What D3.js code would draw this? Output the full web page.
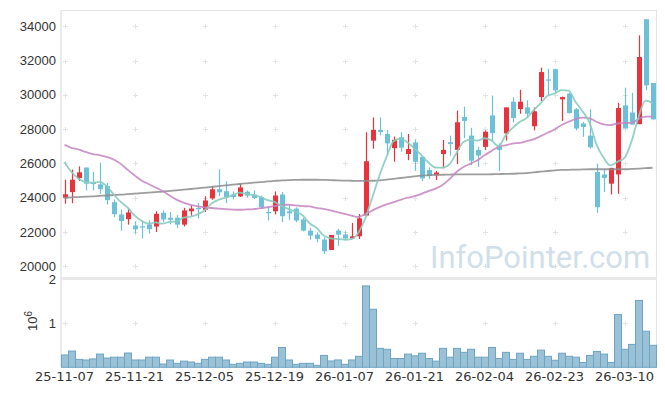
<!DOCTYPE html>
<html><head><meta charset="utf-8">
<script src="https://cdn.jsdelivr.net/npm/d3@7"></script>
<style>
html,body{margin:0;padding:0;background:#fff;}
svg{display:block;}
</style></head><body><svg id="c" width="665" height="396"></svg>
<script>
const dates = ["25-11-07","25-11-10","25-11-11","25-11-12","25-11-13","25-11-14","25-11-17","25-11-18","25-11-19","25-11-20",
"25-11-21","25-11-24","25-11-25","25-11-26","25-11-27","25-11-28","25-12-01","25-12-02","25-12-03","25-12-04",
"25-12-05","25-12-08","25-12-09","25-12-10","25-12-11","25-12-12","25-12-15","25-12-16","25-12-17","25-12-18",
"25-12-19","25-12-22","25-12-23","25-12-24","25-12-26","25-12-29","25-12-30","26-01-02","26-01-05","26-01-06",
"26-01-07","26-01-08","26-01-09","26-01-12","26-01-13","26-01-14","26-01-15","26-01-16","26-01-19","26-01-20",
"26-01-21","26-01-22","26-01-23","26-01-26","26-01-27","26-01-28","26-01-29","26-01-30","26-02-02","26-02-03",
"26-02-04","26-02-05","26-02-06","26-02-09","26-02-10","26-02-11","26-02-12","26-02-13","26-02-19","26-02-20",
"26-02-23","26-02-24","26-02-25","26-02-26","26-02-27","26-03-03","26-03-04","26-03-05","26-03-06","26-03-09",
"26-03-10","26-03-11","26-03-12","26-03-13","26-03-16"];
const opens = [24000,24330,25150,25760,24900,24780,24680,23740,23020,22750,
22380,22330,22440,22320,23120,22830,22830,22430,23210,23400,
23300,23960,24500,24380,24190,24080,24350,24180,24040,23170,
23210,24190,23210,23360,22730,22080,21850,21560,20950,22080,
21850,21630,21750,22960,27330,27960,27720,26890,27530,26550,
27220,26380,25620,25310,26550,27240,26790,28710,27620,26790,
26970,28800,26970,27750,29600,29170,29270,28170,29870,30900,
31500,29740,30070,29170,28330,27620,25500,25360,24820,25360,
29390,28970,28290,34410,30690];
const highs = [25050,25640,25830,25760,25500,26050,24860,23900,23310,23360,
22620,22650,22680,23210,23260,23170,23000,23410,23550,23690,
24080,24660,25650,24960,24370,24820,24430,24430,24120,23490,
24370,24330,23550,23440,22830,22240,21990,21690,21830,22180,
22030,22530,23050,27820,28680,28680,27960,27570,27820,27720,
27410,26400,25770,25560,27370,27620,29080,29310,28080,26970,
27930,29960,27160,29270,29860,30300,29680,29270,31590,31530,
31530,29900,30110,29230,28420,29170,25990,25640,25740,29530,
30420,30110,33470,34410,30690];
const lows = [23650,23680,24970,24430,24430,24230,23610,22860,22080,22430,
21900,21620,21900,22000,22560,22450,22240,22320,22950,22800,
23170,23880,24100,23690,23900,24040,24000,23920,23360,22670,
23020,22570,22710,22570,22040,21550,21400,20720,20950,21200,
21500,21630,21590,22960,26860,27650,26500,26100,26680,26190,
25570,24980,25090,25030,25710,26450,25960,27480,25910,25810,
26790,27330,25560,27330,28400,28900,28650,27930,29640,29970,
30110,28480,28910,27930,27550,26870,23120,24330,24190,24230,
28040,28270,28290,30270,28570];
const closes = [24200,25050,25480,24820,24800,24500,23860,23040,22640,23140,
22160,22300,22170,23060,22730,22710,22430,23260,23370,23380,
23840,24490,24320,24020,24040,24600,24120,23980,23450,23130,
24130,22920,23090,22670,22080,21790,21600,20880,21830,21850,
21630,21750,22800,26130,27960,27830,27170,27380,26920,26840,
26100,25130,25270,25470,26790,27130,28400,28480,26160,26460,
27850,27770,26790,29270,28650,29600,28900,29040,31330,30850,
30270,29870,28940,28040,28130,26940,23450,25150,25740,29230,
28040,28270,32210,30560,28570];
const volumes = [280000,370000,180000,166000,190000,300000,210000,230000,230000,325000,
166000,166000,230000,230000,75000,166000,90000,140000,120000,90000,
180000,230000,230000,166000,68000,90000,120000,120000,90000,68000,
230000,450000,166000,68000,90000,90000,45000,270000,144000,167000,
68000,167000,250000,1850000,1320000,430000,410000,200000,200000,300000,
260000,320000,200000,140000,430000,230000,430000,340000,410000,230000,
230000,450000,200000,340000,180000,320000,180000,250000,390000,250000,
160000,320000,250000,230000,110000,270000,360000,300000,110000,1200000,
410000,520000,1520000,820000,500000];
const ma5 = [26090,25500,25110,24920,24870,24930,24692,24204,23768,23436,
22968,22656,22482,22566,22484,22594,22620,22838,22900,23030,
23256,23668,23880,24010,24142,24294,24220,24152,24038,23856,
23762,23522,23344,23188,22978,22510,22246,21804,21636,21590,
21558,21588,21972,22832,24054,25294,26378,27294,27452,27228,
26882,26474,26052,25762,25752,25958,26612,27254,27392,27326,
27470,27344,27006,27628,28066,28416,28642,29092,29504,29944,
30078,30272,30252,29594,29050,28384,27100,26342,25882,26102,
26322,27286,28698,29662,29530];
const ma20 = [27080,26910,26820,26670,26550,26480,26380,26230,25990,25640,
25310,25010,24800,24600,24390,24130,23890,23710,23580,23500,
23440,23400,23360,23330,23310,23300,23320,23340,23390,23450,
23510,23590,23590,23550,23510,23490,23410,23350,23260,23160,
23060,22960,22880,23060,23260,23450,23610,23740,23880,24000,
24090,24230,24390,24530,24740,25080,25500,25790,25990,26190,
26480,26730,26970,27060,27160,27200,27300,27400,27590,27790,
27980,28240,28430,28590,28670,28630,28430,28280,28240,28330,
28370,28370,28590,28730,28730];
const ma60 = [24000,24020,24040,24060,24080,24110,24130,24160,24180,24210,
24240,24270,24300,24330,24360,24400,24430,24470,24510,24550,
24590,24630,24680,24720,24760,24800,24840,24880,24910,24950,
24980,25010,25030,25040,25050,25050,25050,25040,25030,25010,
25000,24990,24980,24980,24990,25010,25050,25100,25150,25200,
25250,25290,25310,25330,25340,25350,25360,25360,25360,25360,
25360,25370,25380,25390,25400,25420,25440,25480,25520,25560,
25600,25620,25630,25640,25650,25660,25660,25660,25660,25660,
25660,25680,25700,25730,25750];
const priceTicks = [20000,22000,24000,26000,28000,30000,32000,34000];
const volTicks = [1000000,2000000];
const xTickLabels = ["25-11-07","25-11-21","25-12-05","25-12-19","26-01-07","26-01-21","26-02-04","26-02-23","26-03-10"];

const svg = d3.select("#c");
const L = 61, R = 656, PT = 10, PB = 277, VT = 279.3, VB = 367.3;
const x = d3.scaleBand().domain(dates).range([L, R]).padding(0);
const cx = d => x(d) + x.bandwidth() / 2;
const yP = d3.scaleLinear().domain([20000, 34000]).range([266.3, 26.3]);
const yV = d3.scaleLinear().domain([0, 2000000]).range([VB, VT]);
const bars = dates.map((d, i) => ({d, o: opens[i], h: highs[i], l: lows[i], c: closes[i], v: volumes[i]}));

svg.append("rect").attr("width", 665).attr("height", 396).attr("fill", "#fff");
svg.append("defs").append("clipPath").attr("id", "pc").append("rect")
  .attr("x", L).attr("y", PT).attr("width", R - L + 1).attr("height", PB - PT);

// grid crosses
const gridG = svg.append("g").attr("stroke", "#e3e3e3").attr("stroke-width", 1);
const crossAt = (px, py) => {
  gridG.append("line").attr("x1", px - 2.5).attr("x2", px + 2.5).attr("y1", py).attr("y2", py);
  gridG.append("line").attr("x1", px).attr("x2", px).attr("y1", py - 2.5).attr("y2", py + 2.5);
};
xTickLabels.forEach(t => {
  priceTicks.forEach(p => crossAt(Math.round(cx(t)) + 0.5, Math.round(yP(p)) + 0.5));
  crossAt(Math.round(cx(t)) + 0.5, Math.round(yV(1000000)) + 0.5);
});

// watermark
svg.append("text").attr("x", 430).attr("y", 268)
  .attr("font-family", "Roboto, Noto Sans, sans-serif").attr("font-size", 31)
  .attr("fill", "#d0dfe9").text("InfoPointer.com");

// frame
const frame = svg.append("g").attr("stroke", "#e4e4e4").attr("fill", "none");
frame.append("line").attr("x1", L).attr("x2", L).attr("y1", PT).attr("y2", VB).attr("stroke-width", 1.5);
frame.append("line").attr("x1", L).attr("x2", R + 1).attr("y1", PT + 0.5).attr("y2", PT + 0.5);
frame.append("line").attr("x1", R + 0.5).attr("x2", R + 0.5).attr("y1", PT).attr("y2", VB);
frame.append("line").attr("x1", L).attr("x2", R + 1).attr("y1", 278.5).attr("y2", 278.5).attr("stroke-width", 3).attr("stroke", "#e8e8e8");

// volume bars
svg.append("g").selectAll("rect").data(bars).join("rect")
  .attr("x", d => x(d.d) + 0.5).attr("width", x.bandwidth())
  .attr("y", d => yV(d.v)).attr("height", d => VB - yV(d.v))
  .attr("fill", "#9ac1d5").attr("stroke", "#6ea4c4").attr("stroke-width", 1);

// candles
const cg = svg.append("g").attr("clip-path", "url(#pc)");
const up = "#e8323c", dn = "#6cc1d9";
cg.selectAll("line.w").data(bars).join("line").attr("class", "w")
  .attr("x1", d => Math.round(cx(d.d)) + 0.5).attr("x2", d => Math.round(cx(d.d)) + 0.5)
  .attr("y1", d => yP(d.h)).attr("y2", d => yP(d.l))
  .attr("stroke", d => d.c >= d.o ? up : dn).attr("stroke-width", 1.2);
cg.selectAll("rect.b").data(bars).join("rect").attr("class", "b")
  .attr("x", d => Math.round(cx(d.d)) - 2)
  .attr("width", 5)
  .attr("y", d => yP(Math.max(d.o, d.c)))
  .attr("height", d => Math.max(1.2, Math.abs(yP(d.o) - yP(d.c))))
  .attr("fill", d => d.c >= d.o ? up : dn);

// moving averages
const lineGen = arr => d3.line().x((v, i) => cx(dates[i])).y(v => yP(v)).curve(d3.curveMonotoneX)(arr);
const lg = svg.append("g").attr("clip-path", "url(#pc)").attr("fill", "none");
lg.append("path").attr("d", lineGen(ma60)).attr("stroke", "#8c8c8c").attr("stroke-width", 1.8).attr("opacity", 0.85);
lg.append("path").attr("d", lineGen(ma20)).attr("stroke", "#c682c2").attr("stroke-width", 1.8).attr("opacity", 0.85);
lg.append("path").attr("d", lineGen(ma5)).attr("stroke", "#88cbbf").attr("stroke-width", 1.8).attr("opacity", 0.9);

// axes labels
const lab = svg.append("g").attr("font-family", "Liberation Sans, Arial, sans-serif").attr("font-size", 13).attr("fill", "#333");
lab.selectAll("text.p").data(priceTicks).join("text").attr("class", "p")
  .attr("x", 56).attr("y", p => yP(p)).attr("dy", "0.35em").attr("text-anchor", "end").text(p => p);
lab.selectAll("text.v").data(volTicks).join("text").attr("class", "v")
  .attr("x", 56).attr("y", v => yV(v)).attr("dy", "0.35em").attr("text-anchor", "end").text(v => v / 1000000);
const vl = lab.append("text").attr("transform", "translate(37,321) rotate(-90)").attr("text-anchor", "middle");
vl.append("tspan").text("10");
vl.append("tspan").attr("dy", -5).attr("font-size", 10).text("6");

const xAxis = d3.axisBottom(x).tickValues(xTickLabels).tickSize(0).tickPadding(0);
const xa = svg.append("g").attr("transform", `translate(0,${VB + 4})`).call(xAxis);
xa.select(".domain").remove();
xa.selectAll("text").attr("font-family", "DejaVu Sans, sans-serif").attr("font-size", 13).attr("fill", "#333").attr("dy", "0.71em");
</script></body></html>
